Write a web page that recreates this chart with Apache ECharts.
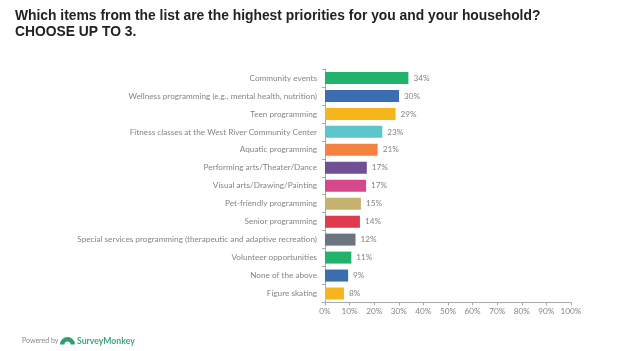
<!DOCTYPE html>
<html>
<head>
<meta charset="utf-8">
<style>
  html, body { margin: 0; padding: 0; background: #fff; }
  #chart { width: 626px; height: 351px; }
</style>
<script src="https://cdn.jsdelivr.net/npm/echarts@6/dist/echarts.min.js"></script>
</head>
<body>
<div id="chart"></div>
<script>
const categories = [
  'Community events',
  'Wellness programming (e.g., mental health, nutrition)',
  'Teen programming',
  'Fitness classes at the West River Community Center',
  'Aquatic programming',
  'Performing arts/Theater/Dance',
  'Visual arts/Drawing/Painting',
  'Pet-friendly programming',
  'Senior programming',
  'Special services programming (therapeutic and adaptive recreation)',
  'Volunteer opportunities',
  'None of the above',
  'Figure skating'
];
const values = [33.9, 30.1, 28.7, 23.3, 21.4, 17.0, 16.7, 14.6, 14.2, 12.4, 10.7, 9.4, 7.7];
const valueLabels = ['34%', '30%', '29%', '23%', '21%', '17%', '17%', '15%', '14%', '12%', '11%', '9%', '8%'];
const barColors = ['#21b36b', '#3a6eb0', '#f7b51c', '#5cc6cc', '#f58240', '#714f94', '#d5488b', '#c4b26e', '#e03a4e', '#6b7580', '#21b36b', '#3a6eb0', '#f7b51c'];

const labelFont = 'Lato, "Open Sans", sans-serif';
const grey = '#858585';

const chart = echarts.init(document.getElementById('chart'));
chart.setOption({
  animation: false,
  backgroundColor: '#fff',
  title: {
    text: 'Which items from the list are the highest priorities for you and your household?\nCHOOSE UP TO 3.',
    left: 10,
    top: 3,
    textStyle: {
      fontFamily: '"Liberation Sans", Arial, sans-serif',
      fontSize: 13.85,
      fontWeight: 'bold',
      color: '#222',
      lineHeight: 16.3
    }
  },
  grid: { left: 325, top: 69, width: 246, height: 233.5 },
  xAxis: {
    type: 'value',
    min: 0,
    max: 100,
    interval: 10,
    axisLine: { show: true, lineStyle: { color: '#a8a8a8' } },
    axisTick: { show: true, length: 3, lineStyle: { color: '#a8a8a8' } },
    splitLine: { show: false },
    axisLabel: {
      formatter: '{value}%',
      fontFamily: labelFont,
      fontSize: 8.2,
      color: grey,
      margin: 5,
      hideOverlap: false
    }
  },
  yAxis: {
    type: 'category',
    inverse: true,
    data: categories,
    axisLine: { show: true, lineStyle: { color: '#a8a8a8' } },
    axisTick: { show: true, length: 3, lineStyle: { color: '#a8a8a8' } },
    axisLabel: {
      fontFamily: labelFont,
      fontSize: 8.2,
      color: grey,
      margin: 8,
      interval: 0
    }
  },
  series: [{
    type: 'bar',
    barWidth: 12,
    data: values.map((v, i) => ({ value: v, itemStyle: { color: barColors[i] } })),
    label: {
      show: true,
      position: 'right',
      distance: 5,
      fontFamily: labelFont,
      fontSize: 8.2,
      color: grey,
      formatter: p => valueLabels[p.dataIndex]
    }
  }],
  graphic: [
    {
      type: 'text', x: 22, y: 341,
      style: { text: 'Powered by', font: '7px Lato, sans-serif', fill: '#8a8a8a', verticalAlign: 'middle' }
    },
    // logo mark
    {
      type: 'sector', shape: { cx: 67.5, cy: 344.5, r: 7.5, r0: 3, startAngle: Math.PI, endAngle: Math.PI * 2 },
      style: { fill: '#2f9e68' }
    },
    {
      type: 'text', x: 77, y: 341,
      style: { text: 'SurveyMonkey', font: 'bold 8.7px Lato, sans-serif', fill: '#3da877', verticalAlign: 'middle' }
    }
  ]
});
</script>
</body>
</html>
